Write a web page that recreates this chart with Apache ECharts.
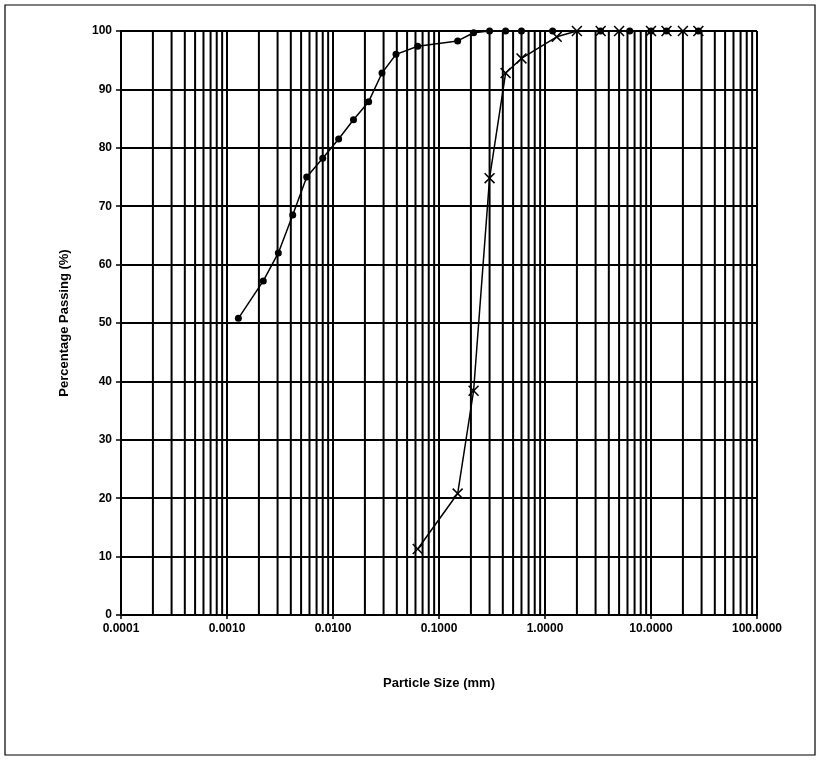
<!DOCTYPE html>
<html>
<head>
<meta charset="utf-8">
<script src="https://cdn.jsdelivr.net/npm/echarts@6/dist/echarts.min.js"></script>
<style>
html,body{margin:0;padding:0;background:#fff;}
#c{width:821px;height:760px;}
</style>
</head>
<body>
<div id="c"></div>
<script>
// Fine-grained sample (hydrometer + sieve), filled circles
const fineSize = [0.00128, 0.0022, 0.00305, 0.00417, 0.00565, 0.0080, 0.0113, 0.0156, 0.0217, 0.029, 0.0393, 0.063, 0.15, 0.212, 0.3, 0.425, 0.6, 1.18, 3.35, 6.3, 10, 14, 28];
const finePass = [50.8, 57.2, 62.0, 68.5, 75.0, 78.2, 81.5, 84.8, 87.9, 92.8, 96.0, 97.4, 98.3, 99.7, 100, 100, 100, 100, 100, 100, 100, 100, 100];
// Sandy sample (sieve), crosses
const sandSize = [0.063, 0.15, 0.212, 0.3, 0.425, 0.6, 1.29, 2.0, 3.35, 5.0, 10, 14, 20, 28];
const sandPass = [11.3, 20.8, 38.4, 74.8, 92.8, 95.3, 99.0, 100, 100, 100, 100, 100, 100, 100];
// Axis structure
const decades = [0.0001, 0.001, 0.01, 0.1, 1, 10];
const minorMultipliers = [2, 3, 4, 5, 6, 7, 8, 9];
const xTickLabels = {0.0001:'0.0001', 0.001:'0.0010', 0.01:'0.0100', 0.1:'0.1000', 1:'1.0000', 10:'10.0000', 100:'100.0000'};

// vertical minor grid lines at 2..9 x each decade (segments separated by gaps)
const minorGrid = [];
decades.forEach(d => minorMultipliers.forEach(m => {
  const v = d * m;
  minorGrid.push([v, 0], [v, 100], [v, '-']);
}));

const font = 'Liberation Sans, Arial, sans-serif';
const crossPath = 'path://M0,1 L1,0 L5,4 L9,0 L10,1 L6,5 L10,9 L9,10 L5,6 L1,10 L0,9 L4,5 Z';

const chart = echarts.init(document.getElementById('c'), null, {renderer:'canvas'});
chart.setOption({
  backgroundColor: '#fff',
  animation: false,
  graphic: [{
    type: 'rect', shape: {x: 5, y: 5, width: 810, height: 750},
    style: {fill: 'none', stroke: '#000', lineWidth: 1.2}, silent: true, z: -1
  }],
  grid: {left: 121, right: 64, top: 31, bottom: 145},
  xAxis: {
    type: 'log', logBase: 10, min: 0.0001, max: 100,
    name: 'Particle Size (mm)', nameLocation: 'middle', nameGap: 62,
    nameTextStyle: {fontFamily: font, fontWeight: 'bold', fontSize: 13, color: '#000'},
    axisLine: {show: true, lineStyle: {color: '#000', width: 2}},
    axisTick: {show: true, length: 4, lineStyle: {color: '#000', width: 1.5}},
    axisLabel: {fontFamily: font, fontWeight: 'bold', fontSize: 12, color: '#000', margin: 8,
      formatter: v => { const k = Object.keys(xTickLabels).find(key => Math.abs(Math.log10(+key) - Math.log10(v)) < 1e-6); return k ? xTickLabels[k] : ''; }},
    splitLine: {show: true, lineStyle: {color: '#000', width: 2}}
  },
  yAxis: {
    type: 'value', min: 0, max: 100, interval: 10,
    name: 'Percentage Passing (%)', nameLocation: 'middle', nameGap: 50,
    nameTextStyle: {fontFamily: font, fontWeight: 'bold', fontSize: 13, color: '#000'},
    axisLine: {show: true, lineStyle: {color: '#000', width: 2}},
    axisTick: {show: true, length: 5, lineStyle: {color: '#000', width: 1.5}},
    axisLabel: {fontFamily: font, fontWeight: 'bold', fontSize: 12, color: '#000', margin: 9},
    splitLine: {show: true, lineStyle: {color: '#000', width: 2}}
  },
  series: [
    {
      type: 'line', name: 'grid', data: minorGrid, silent: true, showSymbol: false, symbol: 'none',
      connectNulls: false, lineStyle: {color: '#000', width: 2}, z: 1
    },
    {
      type: 'line', name: 'fine', data: fineSize.map((s,i)=>[s, finePass[i]]),
      symbol: 'circle', symbolSize: 7,
      itemStyle: {color: '#000'}, lineStyle: {color: '#000', width: 1.5}, z: 5
    },
    {
      type: 'line', name: 'sand', data: sandSize.map((s,i)=>[s, sandPass[i]]),
      symbol: crossPath, symbolSize: 11,
      itemStyle: {color: '#000'}, lineStyle: {color: '#000', width: 1.5}, z: 6
    }
  ]
});
</script>
</body>
</html>
